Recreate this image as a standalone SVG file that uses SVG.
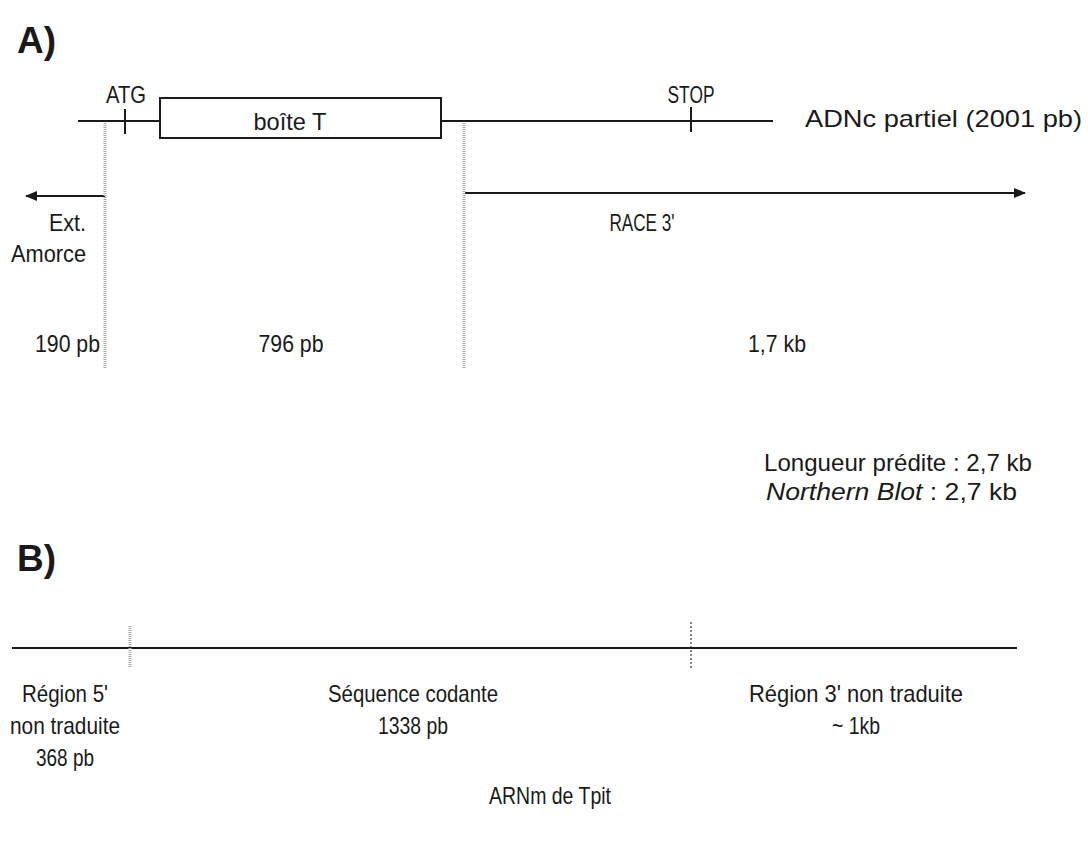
<svg xmlns="http://www.w3.org/2000/svg" width="1088" height="844" viewBox="0 0 1088 844">
<defs>
<marker id="ah" markerWidth="12" markerHeight="10" refX="11" refY="5" orient="auto" markerUnits="userSpaceOnUse">
<path d="M0,0 L12,5 L0,10 Z" fill="#1a1a1a"/>
</marker>
</defs>
<style>
text{font-family:"Liberation Sans",Arial,sans-serif;fill:#1a1a1a}
.lbl{font-size:24px}
.big{font-size:24px}
.hdr{font-size:37px;font-weight:bold}
.ln{stroke:#1a1a1a;stroke-width:2;fill:none}
.dot{stroke:#a8a8a8;stroke-width:3;stroke-dasharray:1 1;fill:none}
.dotk{stroke:#333;stroke-width:1.2;stroke-dasharray:2 2;fill:none}
</style>
<rect width="1088" height="844" fill="#fff"/>
<g id="titleA"><text class="hdr" x="17" y="53">A)</text></g>
<g id="titleB"><text class="hdr" x="17" y="571">B)</text></g>

<g id="connectors">
<line class="ln" x1="78" y1="121" x2="160" y2="121"/>
<line class="ln" x1="441" y1="121" x2="773" y2="121"/>
<line class="ln" x1="105" y1="196" x2="26" y2="196" marker-end="url(#ah)"/>
<line class="ln" x1="465" y1="193" x2="1025" y2="193" marker-end="url(#ah)"/>
<line class="dot" x1="105" y1="123" x2="105" y2="368"/>
<line class="dot" x1="464" y1="123" x2="464" y2="368"/>
<line class="ln" x1="12" y1="648" x2="1017" y2="648"/>
<line class="dot" x1="130" y1="626" x2="130" y2="668"/>
<line class="dotk" x1="691" y1="622" x2="691" y2="668"/>
</g>

<g id="atg">
<line class="ln" x1="125" y1="109" x2="125" y2="134"/>
<text class="lbl" x="126" y="103" text-anchor="middle" textLength="40" lengthAdjust="spacingAndGlyphs">ATG</text>
</g>
<g id="boiteT">
<rect x="160" y="98" width="281" height="40" fill="#fff" stroke="#1a1a1a" stroke-width="2"/>
<text class="big" x="290" y="130" text-anchor="middle" textLength="73" lengthAdjust="spacingAndGlyphs">boîte T</text>
</g>
<g id="stop">
<line class="ln" x1="691" y1="107" x2="691" y2="132"/>
<text class="lbl" x="691" y="103" text-anchor="middle" textLength="47" lengthAdjust="spacingAndGlyphs">STOP</text>
</g>
<g id="adnc"><text class="big" x="805" y="127" textLength="277" lengthAdjust="spacingAndGlyphs">ADNc partiel (2001 pb)</text></g>
<g id="ext">
<text class="lbl" x="86" y="231" text-anchor="end" textLength="37" lengthAdjust="spacingAndGlyphs">Ext.</text>
<text class="lbl" x="86" y="262" text-anchor="end" textLength="75" lengthAdjust="spacingAndGlyphs">Amorce</text>
</g>
<g id="race"><text class="lbl" x="642" y="231" text-anchor="middle" textLength="65" lengthAdjust="spacingAndGlyphs">RACE 3'</text></g>
<g id="sizes">
<text class="lbl" x="100" y="352" text-anchor="end" textLength="65" lengthAdjust="spacingAndGlyphs">190 pb</text>
<text class="lbl" x="291" y="352" text-anchor="middle" textLength="65" lengthAdjust="spacingAndGlyphs">796 pb</text>
<text class="lbl" x="777" y="352" text-anchor="middle" textLength="58" lengthAdjust="spacingAndGlyphs">1,7 kb</text>
</g>
<g id="predicted">
<text class="big" x="764" y="471" textLength="268" lengthAdjust="spacingAndGlyphs">Longueur prédite : 2,7 kb</text>
<text class="big" x="766" y="500" textLength="251" lengthAdjust="spacingAndGlyphs"><tspan font-style="italic">Northern Blot</tspan> : 2,7 kb</text>
</g>
<g id="utr5">
<text class="lbl" x="65" y="702" text-anchor="middle" textLength="86" lengthAdjust="spacingAndGlyphs">Région 5'</text>
<text class="lbl" x="65" y="734" text-anchor="middle" textLength="110" lengthAdjust="spacingAndGlyphs">non traduite</text>
<text class="lbl" x="65" y="766" text-anchor="middle" textLength="58" lengthAdjust="spacingAndGlyphs">368 pb</text>
</g>
<g id="cds">
<text class="lbl" x="413" y="702" text-anchor="middle" textLength="170" lengthAdjust="spacingAndGlyphs">Séquence codante</text>
<text class="lbl" x="413" y="734" text-anchor="middle" textLength="70" lengthAdjust="spacingAndGlyphs">1338 pb</text>
</g>
<g id="utr3">
<text class="lbl" x="856" y="702" text-anchor="middle" textLength="214" lengthAdjust="spacingAndGlyphs">Région 3' non traduite</text>
<text class="lbl" x="856" y="734" text-anchor="middle" textLength="48" lengthAdjust="spacingAndGlyphs">~ 1kb</text>
</g>
<g id="arnm"><text class="big" x="550" y="804" text-anchor="middle" textLength="122" lengthAdjust="spacingAndGlyphs">ARNm de Tpit</text></g>
</svg>
